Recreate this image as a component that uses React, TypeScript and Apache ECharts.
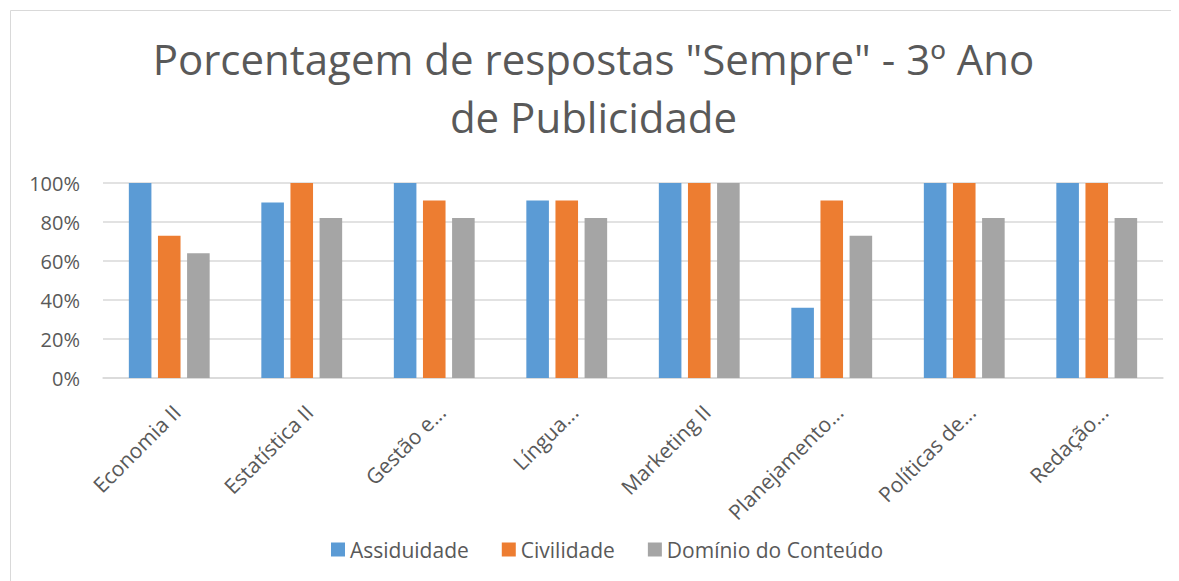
import React, { useEffect, useRef } from "react";
import * as echarts from "echarts";

const categories = [
  "Economia II",
  "Estatística II",
  "Gestão e...",
  "Língua...",
  "Marketing II",
  "Planejamento...",
  "Políticas de...",
  "Redação...",
];
const assiduidade = [100, 90, 100, 91, 100, 36, 100, 100];
const civilidade = [73, 100, 91, 91, 100, 91, 100, 100];
const dominio = [64, 82, 82, 82, 100, 73, 82, 82];
const seriesNames = ["Assiduidade", "Civilidade", "Domínio do Conteúdo"];
const colors = ["#5b9bd5", "#ed7d31", "#a5a5a5"];
const titleText = 'Porcentagem de respostas "Sempre" - 3º Ano\nde Publicidade';

const FONT = "'Open Sans', 'Noto Sans', sans-serif";

export default function App() {
  const ref = useRef<HTMLDivElement>(null);
  useEffect(() => {
    if (!ref.current) return;
    const chart = echarts.init(ref.current, null, { renderer: "svg" });
    const data = [assiduidade, civilidade, dominio];
    chart.setOption({
      animation: false,
      backgroundColor: "#ffffff",
      textStyle: { fontFamily: FONT },
      title: {
        text: titleText,
        left: "center",
        top: 16,
        padding: [5, 5, 5, 19],
        textStyle: {
          fontFamily: FONT,
          fontSize: 42,
          fontWeight: "normal",
          color: "#595959",
          lineHeight: 58,
        },
      },
      graphic: [
        {
          type: "rect",
          left: 0,
          top: 0,
          shape: { x: 0, y: 0, width: 1170, height: 572 },
          style: { fill: "none", stroke: "#d9d9d9", lineWidth: 1 },
          silent: true,
        },
      ],
      legend: {
        bottom: 16,
        left: 318,
        itemWidth: 14,
        itemHeight: 14,
        itemGap: 33,
        icon: "rect",
        textStyle: { fontFamily: FONT, fontSize: 21, color: "#595959" },
        data: seriesNames,
      },
      grid: { left: 95, right: 16, top: 175, bottom: 203, containLabel: false },
      xAxis: {
        type: "category",
        data: categories,
        axisLine: { lineStyle: { color: "#d9d9d9", width: 1.5 } },
        axisTick: { show: false },
        axisLabel: {
          rotate: 45,
          interval: 0,
          fontFamily: FONT,
          fontSize: 21,
          color: "#595959",
          margin: 23,
          verticalAlign: "top",
        },
      },
      yAxis: {
        type: "value",
        min: 0,
        max: 100,
        interval: 20,
        axisLine: { show: false },
        axisTick: { show: false },
        splitLine: { lineStyle: { color: "#d9d9d9", width: 1.5 } },
        axisLabel: {
          formatter: "{value}%",
          fontFamily: FONT,
          fontSize: 20,
          color: "#595959",
          margin: 23,
        },
      },
      series: seriesNames.map((name, i) => ({
        name,
        type: "bar",
        data: data[i],
        barGap: "29%",
        barCategoryGap: "39%",
        itemStyle: { color: colors[i] },
      })),
    });
    return () => chart.dispose();
  }, []);
  return <div ref={ref} style={{ width: 1171, height: 573 }} />;
}
